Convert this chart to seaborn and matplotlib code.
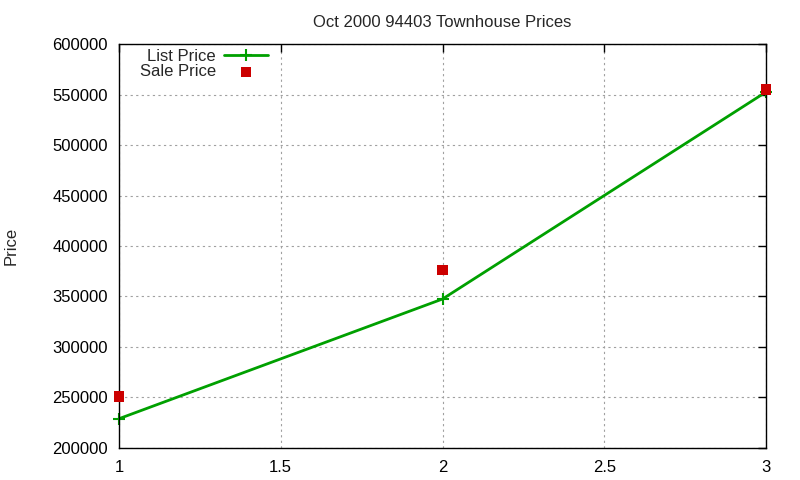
import numpy as np
import pandas as pd
import seaborn as sns
import matplotlib.pyplot as plt

# values
quarters = [1, 2, 3]
list_price = [229000, 347500, 552500]
sale_price = [251000, 376000, 555000]

df = pd.DataFrame({'x': quarters, 'list': list_price, 'sale': sale_price})

sns.set_style('white')
plt.rcParams['font.family'] = ['Liberation Sans', 'DejaVu Sans']
plt.rcParams['font.size'] = 12

fig = plt.figure(figsize=(8, 4.8), dpi=100)
ax = fig.add_axes([0.14875, 0.0667, 0.80875, 0.8416])

sns.lineplot(data=df, x='x', y='list', ax=ax, color='#00a000', linewidth=2,
             marker='+', markersize=9, markeredgewidth=1.5,
             markeredgecolor='#00a000', label='List Price', clip_on=False)
sns.scatterplot(data=df, x='x', y='sale', ax=ax, color='#cc0000', marker='s',
                s=55, edgecolor='none', label='Sale Price', zorder=5,
                clip_on=False)

ax.set_xlim(1, 3)
ax.set_ylim(200000, 600000)
ax.set_xticks([1, 1.5, 2, 2.5, 3])
ax.set_xticklabels(['1', '1.5', '2', '2.5', '3'])
ax.set_yticks(np.arange(200000, 600001, 50000))
ax.set_yticklabels([str(v) for v in range(200000, 600001, 50000)])
ax.grid(True, color='#a0a0a0', linestyle=(0, (2, 3)), linewidth=0.8)
ax.tick_params(direction='in', top=True, right=True, length=6, width=1,
               labelsize=12, colors='black')
ax.tick_params(axis='x', pad=9)
ax.tick_params(axis='y', pad=8)
for s in ax.spines.values():
    s.set_color('black')
    s.set_linewidth(1)

ax.set_xlabel('')
ax.set_ylabel('Price', fontsize=12)
ax.yaxis.set_label_coords(-0.155, 0.5)
ax.set_title('Oct 2000 94403 Townhouse Prices', fontsize=12, pad=12)

leg = ax.legend(loc='upper right', frameon=False, markerfirst=False,
                bbox_to_anchor=(0.24, 1.005), borderaxespad=0.0,
                handlelength=2.6, handletextpad=0.5,
                labelspacing=0.05, fontsize=12)
leg._legend_box.align = 'right'

fig.savefig('out.png', dpi=100)
